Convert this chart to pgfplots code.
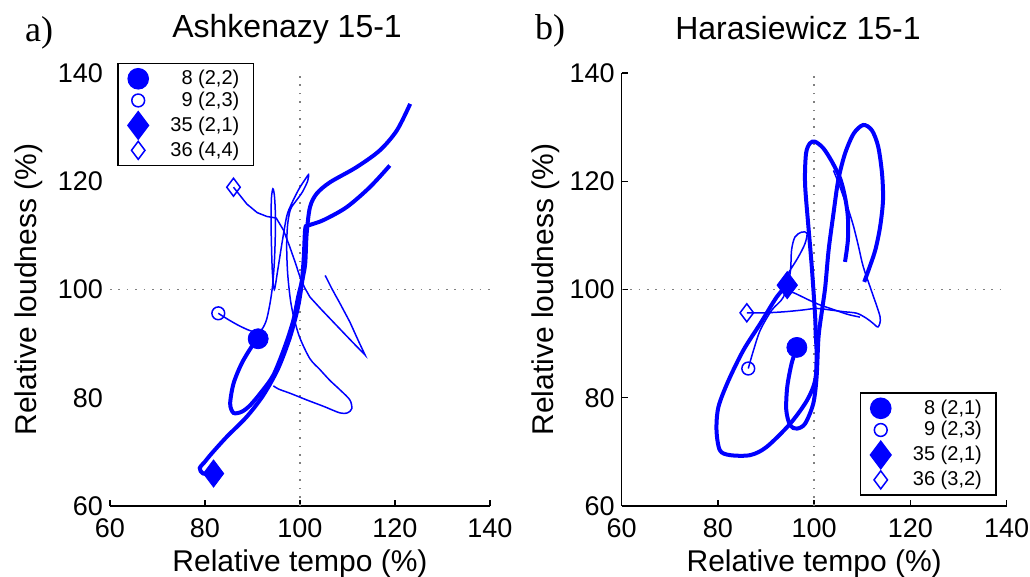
\documentclass[border=0pt]{standalone}
\usepackage{pgfplots}
\pgfplotsset{compat=1.18}
\usepackage{fontspec}
\setmainfont{Liberation Sans}
\newfontfamily\serifabc{Liberation Serif}

% 1 px of the 1030x577 figure = 0.5pt
\pgfplotsset{
  panel/.style={
    scale only axis, width=190pt, height=216.5pt,
    xmin=60, xmax=140, ymin=60, ymax=140,
    xtick={60,80,...,140}, ytick={60,80,...,140},
    axis lines*=left, axis line style={-, line width=0.7pt},
    tick align=inside, major tick length=3pt,
    tick style={black, line width=0.7pt},
    tick label style={font=\fontsize{13.5}{15}\selectfont},
    xticklabel style={yshift=-3pt},
    /pgf/number format/assume math mode=true,
    xlabel={Relative tempo (\%)}, ylabel={Relative loudness (\%)},
    every axis x label/.style={at={(axis description cs:0.5,-0.152)}, anchor=base,
      font=\fontsize{15}{17}\selectfont},
    legend style={draw=black, line width=0.8pt, font=\fontsize{10}{12}\selectfont,
      inner xsep=5pt, inner ysep=2.5pt, row sep=0.5pt,
      nodes={inner xsep=2pt, inner ysep=0.8pt},
      /tikz/every odd column/.append style={column sep=9pt}},
    legend cell align=right,
    legend image code/.code={\path (-4pt,0pt); \draw[#1] plot coordinates {(0pt,0pt)};},
  },
  heavy/.style={blue, line width=2pt, smooth, tension=0.5, forget plot},
  light/.style={blue, line width=0.75pt, smooth, tension=0.5, forget plot},
  refline/.style={gray, line width=0.9pt, dash pattern=on 0.8pt off 3.4pt, forget plot},
  m8/.style={only marks, blue, mark=*, mark size=5pt},
  m9/.style={only marks, blue, mark=o, mark size=3.2pt, line width=0.75pt},
  m35/.style={only marks, blue, mark=diamond*, mark size=6.8pt},
  m36/.style={only marks, blue, mark=diamond, mark size=4.5pt, line width=0.75pt},
}

\begin{document}
\begin{tikzpicture}
\useasboundingbox (0,0) rectangle (515pt,288.5pt);

% ---------------- a) Ashkenazy ----------------
\begin{axis}[panel, at={(55pt,35.5pt)}, anchor=south west,
  y axis line style={draw=none}, ytick style={draw=none},
  every axis y label/.style={at={(axis description cs:-0.193,0.5)}, rotate=90, anchor=base,
    font=\fontsize{15}{17}\selectfont},
  title={Ashkenazy 15-1},
  every axis title/.style={at={(0.466,1)}, anchor=base, yshift=18pt,
    font=\fontsize{16}{18}\selectfont},
  legend style={at={(0.019,1.024)}, anchor=north west}]
\addplot[refline] coordinates {(100,60) (100,140)};
\addplot[refline] coordinates {(60,100) (140,100)};
% 8 (2,2)
\addplot[heavy] coordinates {
(91.2,90.9) (89.8,89.4) (87.7,86.3) (86.0,82.6) (85.3,78.9) (86.0,77.2) (87.7,77.4)
(89.5,78.6) (91.9,81.1) (94.4,84.2) (96.8,89.4) (98.6,94.3) (99.6,98.6) (100.4,101.7)
(100.8,106.0) (101.1,111.2) (101.7,111.8) (104.9,112.8) (109.8,115.2) (114.7,118.9) (118.9,122.9)};
% 9 (2,3)
\addplot[light] coordinates {
(82.8,95.6) (84.8,94.5) (87,93.4) (89.5,92.4) (91.5,92.2) (92.8,94) (93.6,97) (94.2,100.5)
(94.6,105) (94.8,110) (94.8,114.5) (94.6,117.5) (94.3,118.6) (94.0,117) (93.9,113) (94.0,108)
(94.2,103) (94.6,100) (95.3,103.5) (96.2,108.5) (97.2,113.5) (98.2,115.8) (99.8,118.6)
(101.2,120.5) (101.8,121.2) (101.6,120) (100.5,118) (99.2,116.4) (98,114.8) (97.4,112)
(97.2,108) (97.4,103) (98,98) (98.8,94.5) (100,91) (102.1,87.2) (104.2,85.2) (106.3,83.2)
(108.5,81.4) (110.5,79.6) (110.9,78.0) (110,77.2) (108.4,77.2) (105,78.4) (101.4,79.6)
(98,80.8) (95.5,81.6) (94.4,82.2)};
% 35 (2,1)
\addplot[heavy] coordinates {
(81.8,66.0) (79.6,66.0) (78.9,67.0) (80,68.2) (81.4,69.7) (84.6,72.8) (88.8,76.5) (92.3,80.5)
(95.4,85.4) (97.9,91.2) (99.6,96.8) (100.5,101.7) (101.1,104.8) (101.4,110.3) (102.1,115.2)
(103.5,117.7) (106.3,119.8) (111.9,122.6) (116.8,125.7) (120.4,129.4) (123.2,134.3)};
% 36 (4,4)
\addplot[blue, line width=0.75pt, forget plot] coordinates {
(86,118.9) (88.8,115.8) (91,114.2) (93,113.5) (95,113.2) (96.5,111) (97.8,108) (99,105)
(100,102.3) (101,100.3) (102.1,98.6) (104.5,96.3) (107,94) (109.5,91.7) (111.8,89.6)
(113.7,87.9) (112.2,90.7) (110.5,94) (108.5,97.3) (106.8,100) (105.3,102.6)};
% start markers
\addplot[m8] coordinates {(91.2,90.9)};
\addlegendentry{8 (2,2)}
\addplot[m9] coordinates {(82.8,95.6)};
\addlegendentry{9 (2,3)}
\addplot[m35] coordinates {(81.8,66.0)};
\addlegendentry{35 (2,1)}
\addplot[m36] coordinates {(86,118.9)};
\addlegendentry{36 (4,4)}
\end{axis}

% ---------------- b) Harasiewicz ----------------
\begin{axis}[panel, at={(310.85pt,35.5pt)}, anchor=south west, width=192.5pt,
  every axis y label/.style={at={(axis description cs:-0.178,0.5)}, rotate=90, anchor=base,
    font=\fontsize{15}{17}\selectfont},
  title={Harasiewicz 15-1},
  every axis title/.style={at={(0.458,1)}, anchor=base, yshift=17pt,
    font=\fontsize{16}{18}\selectfont},
  legend style={at={(0.974,0.023)}, anchor=south east}]
\addplot[refline] coordinates {(100,60) (100,140)};
\addplot[refline] coordinates {(60,100) (140,100)};
% 8 (2,1)
\addplot[heavy] coordinates {
(96.4,89.3) (95.3,86.3) (94.4,82.0) (94.2,77.7) (95.0,74.9) (96.4,74.3) (98.1,75.2)
(99.8,78.9) (100.5,83.8) (100.9,91.2) (101.6,96) (102.3,100.5) (103.0,107.3) (104.0,114.0)
(105.0,120.2) (106.4,125.1) (108.2,128.8) (110.2,130.4) (112.0,129.4) (113.3,126.4)
(114.1,121.4) (114.3,116.5) (113.7,111.6) (112.7,107.3) (111.3,103.6) (110.4,101.4)};
% 9 (2,3)
\addplot[light] coordinates {
(86.3,85.4) (87.4,88.8) (88.8,92.5) (91.2,96.2) (93.6,98.6) (95.0,103.0) (95.3,107.3)
(96.0,109.7) (97.4,110.6) (98.5,110.4) (98.1,108.5) (96.7,106.0) (94.6,103.0) (92.9,100.5)
(96,99.3) (100.5,97.4) (104,96.3) (107,95.4) (109.5,94.9)};
% 35 (2,1)
\addplot[heavy] coordinates {
(94.4,100.8) (92.2,98.6) (88.8,93.7) (85.3,88.8) (82.2,83.2) (80.1,78.3) (79.7,74.0)
(80.4,70.3) (82.5,69.4) (86.7,69.4) (90.1,70.9) (95.0,75.2) (98.5,79.5) (100.2,83.2)
(100.5,88) (100.3,92) (100.2,95) (99.5,104.2) (98.8,111.6) (98.1,119.6) (98.3,125.1)
(99.1,127.0) (100.2,127.3) (101.9,126.1) (103.7,123.6) (105.4,120.5) (106.4,117.1)
(107.0,113.4) (107.0,109.1) (106.4,105.1)};
% 36 (3,2)
\addplot[light] coordinates {
(86.0,95.7) (90.1,95.7) (94,95.9) (97.5,96.2) (100.5,96.5) (103.5,96.2) (106.1,95.9)
(108.9,95.6) (111,94.6) (112.3,93.7) (113.3,93.1) (113.7,94.9) (112,99.5) (110.2,104.2)
(109.2,108) (108.2,111.6) (107.2,114.5) (106.1,117.1) (105,119.8) (104.0,122.0)};
% start markers
\addplot[m8] coordinates {(96.4,89.3)};
\addlegendentry{8 (2,1)}
\addplot[m9] coordinates {(86.3,85.4)};
\addlegendentry{9 (2,3)}
\addplot[m35] coordinates {(94.4,100.8)};
\addlegendentry{35 (2,1)}
\addplot[m36] coordinates {(86.0,95.7)};
\addlegendentry{36 (3,2)}
\end{axis}

\node[anchor=base west, font=\serifabc\fontsize{18}{20}\selectfont] at (9pt,267.5pt) {a)};
\node[anchor=base west, font=\serifabc\fontsize{18}{20}\selectfont] at (264pt,268.5pt) {b)};
\end{tikzpicture}
\end{document}
